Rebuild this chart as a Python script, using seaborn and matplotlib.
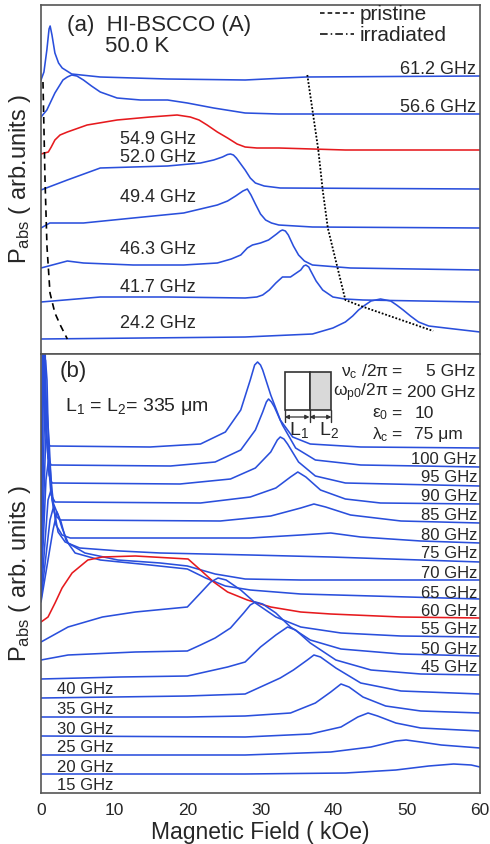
import matplotlib
matplotlib.use("Agg")
import matplotlib.pyplot as plt
import seaborn as sns
import pandas as pd
from matplotlib.lines import Line2D
from matplotlib.patches import Rectangle

# ---------------- panel (a): measured absorption, (field kOe, signal arb.) ----------------
a_612 = [(0, 274), (0.4, 282), (0.8, 304), (1.1, 325), (1.25, 328), (1.5, 319), (1.9, 301), (2.4, 291),
         (2.9, 286), (4.2, 280), (8.1, 277), (17.3, 275), (27.9, 274), (36.2, 277), (60, 278)]
a_566 = [(0, 237), (0.8, 244), (1.9, 261), (3.0, 274), (3.6, 277), (4.2, 279), (4.9, 278), (5.8, 274),
         (6.9, 268), (8.1, 262), (10.4, 256), (13.6, 254), (17.3, 254), (20, 251), (23.6, 246), (27.9, 241),
         (32.5, 240), (60, 240)]
a_549 = [(0, 200), (1.0, 202), (1.4, 207), (1.9, 214), (2.6, 219), (3.6, 222), (6.3, 229), (10.4, 234),
         (14.9, 237), (18.6, 239), (20.4, 237), (21.6, 234), (22.7, 229), (24.1, 222), (25.5, 216),
         (26.8, 210), (27.9, 207), (29.5, 206), (32.5, 206), (41.6, 204), (60, 204)]
a_520 = [(0, 164), (3.6, 174), (8.1, 186), (12.6, 187), (17.3, 188), (21.8, 191), (23.6, 194), (24.8, 197),
         (25.5, 199.5), (25.9, 200), (26.3, 199), (26.7, 196), (27.3, 190), (27.9, 184), (28.6, 176),
         (29.3, 171), (30.5, 168), (32.7, 166), (60, 165)]
a_494 = [(0, 126), (1.2, 131), (5.8, 131), (12.6, 136), (19.5, 141), (24.1, 149), (25.5, 153), (26.6, 158),
         (27.6, 163), (28.2, 165), (28.7, 159), (29.3, 150), (30.0, 140), (30.7, 134), (31.5, 131), (32.5, 129),
         (37.1, 127), (60, 126)]
a_463 = [(0, 86), (3.6, 93), (5.8, 91), (12.6, 89), (19.5, 89), (24.1, 91), (26.0, 95), (27.3, 99),
         (28.2, 106), (28.9, 109), (30.0, 111), (31.1, 114), (32.2, 120), (32.7, 123), (33.0, 124),
         (33.4, 123), (33.8, 119), (34.5, 108), (35.2, 99), (36.0, 93), (37.1, 89), (42.3, 86), (60, 84)]
a_417 = [(0, 52), (8.1, 57), (17.3, 57), (27.9, 56), (29.5, 57), (30.3, 59), (31.2, 64), (32.1, 71),
         (33.0, 77), (34.1, 77), (35.5, 84), (35.9, 88), (36.2, 89), (36.6, 87), (36.8, 84), (37.6, 73),
         (38.5, 64), (39.9, 57), (41.5, 55), (44.0, 54), (60, 52)]
a_242 = [(0, 15), (27.9, 17), (37.1, 20), (39.9, 26), (41.6, 32), (42.6, 38), (43.4, 44), (44.3, 49),
         (45.1, 53), (46.4, 55), (47.8, 53), (48.6, 49), (49.5, 44), (50.5, 38), (51.6, 32), (53.0, 28),
         (55.3, 26), (60, 22)]
a_freqs = ["61.2 GHz", "56.6 GHz", "54.9 GHz", "52.0 GHz", "49.4 GHz", "46.3 GHz", "41.7 GHz", "24.2 GHz"]
a_pristine = [(0.27, 272), (0.55, 174), (0.82, 107), (1.23, 61), (1.9, 41), (2.7, 28), (3.6, 15)]
a_irradiated = [(36.4, 279), (37.1, 244), (37.9, 204), (38.5, 164), (39.2, 126), (40.5, 87), (41.6, 54),
                (43.7, 48), (53.6, 23)]

# ---------------- panel (b): simulated absorption ----------------
b_100 = [(0, 273), (0.14, 373), (0.2, 463), (0.34, 463), (0.55, 373), (0.82, 351), (1.23, 347), (14.9, 346),
         (21.8, 349), (25.2, 361), (27.3, 383), (28.6, 413), (29.2, 428), (29.6, 431), (30.0, 428), (30.3, 423),
         (31.4, 398), (32.7, 373), (34.4, 356), (36.8, 349), (43.7, 346), (60, 345)]
b_95 = [(0, 253), (0.2, 393), (0.3, 453), (0.44, 453), (0.68, 363), (0.96, 335), (1.37, 328), (17.7, 327),
        (23.8, 331), (27.3, 343), (29.3, 363), (30.3, 381), (30.8, 391), (31.1, 394), (31.5, 391), (31.9, 386),
        (33.0, 368), (34.8, 345), (37.5, 333), (43.7, 328), (60, 326)]
b_90 = [(0, 233), (0.27, 373), (0.41, 448), (0.55, 448), (0.82, 353), (1.1, 318), (1.5, 310), (19.0, 309),
        (25.9, 314), (29.3, 325), (31.4, 341), (32.3, 353), (32.7, 356), (33.2, 354), (33.7, 349), (35.2, 331),
        (37.5, 317), (41.6, 310), (60, 307)]
b_85 = [(0, 218), (0.41, 353), (0.62, 433), (0.82, 413), (1.1, 323), (1.37, 298), (1.92, 291), (21.8, 290),
        (28.6, 296), (32.1, 305), (34.1, 316), (35.1, 321), (36.2, 316), (38.2, 303), (41.6, 294), (46.4, 290),
        (60, 289)]
b_80 = [(0, 208), (0.55, 333), (0.82, 383), (1.1, 353), (1.5, 293), (1.92, 278), (2.6, 273), (24.5, 272),
        (31.4, 277), (35.5, 285), (37.3, 289), (38.9, 286), (42.3, 278), (49.2, 272), (60, 270)]
b_75 = [(0, 201), (0.68, 313), (1.1, 338), (1.5, 303), (2.05, 268), (2.88, 258), (4.0, 255), (28.6, 255),
        (35.5, 258), (39.6, 260), (43.7, 256), (51.9, 252), (60, 250)]
b_70 = [(0, 195), (0.96, 293), (1.37, 303), (1.78, 283), (2.33, 261), (3.3, 251), (5.3, 245), (10.8, 242),
        (16.3, 240), (28.6, 238), (39.6, 236), (60, 231)]
b_65 = [(0, 193), (1.23, 273), (1.78, 288), (2.33, 278), (2.88, 265), (3.7, 250), (6.0, 240), (10.5, 233),
        (16.3, 230), (20.0, 227), (23.8, 219), (27.9, 214), (35.5, 213), (60, 213)]
b_60 = [(0, 191), (1.64, 263), (2.19, 281), (2.74, 271), (3.4, 253), (4.66, 240), (8.1, 233), (14.9, 228),
        (20.0, 224), (22.5, 215), (25.2, 207), (28.6, 203), (35.5, 199), (60, 194)]
b_55 = [(0, 171), (0.96, 176), (1.92, 190), (2.88, 205), (4.25, 220), (6.4, 233), (8.4, 236), (12.9, 237),
        (20.1, 234), (21.8, 223), (23.6, 211), (25.5, 201), (28.2, 193), (31.4, 186), (35.5, 181), (39.6, 179),
        (49.2, 176), (60, 175)]
b_50 = [(0, 151), (3.7, 166), (8.4, 176), (12.9, 181), (20.0, 186), (21.8, 200), (23.2, 211), (24.2, 215),
        (25.3, 213), (27.3, 203), (29.3, 190), (32.1, 176), (35.5, 166), (41.0, 160), (49.2, 157), (60, 156)]
b_45 = [(0, 133), (3.7, 138), (12.9, 141), (20.0, 142), (21.8, 148), (23.8, 155), (25.9, 165), (27.7, 180),
        (28.6, 188), (29.3, 191), (30.3, 189), (32.1, 180), (34.1, 166), (36.8, 153), (41.0, 144), (49.2, 139),
        (60, 137)]
b_40 = [(0, 114), (10.8, 116), (20.0, 117), (25.5, 126), (27.9, 131), (30.0, 146), (32.1, 158), (33.7, 166),
        (34.8, 163), (36.8, 150), (40.3, 133), (45.1, 123), (51.9, 119), (60, 118)]
b_35 = [(0, 95), (20.0, 97), (27.9, 99), (30.0, 106), (32.7, 115), (34.5, 123), (36.4, 133), (37.3, 138),
        (38.2, 136), (40.3, 125), (43.7, 110), (49.2, 102), (60, 99)]
b_30 = [(0, 76), (20.0, 76), (27.9, 77), (34.1, 80), (37.5, 90), (39.6, 101), (41.0, 109), (42.1, 106),
        (44.0, 96), (47.1, 87), (51.9, 82), (60, 80)]
b_25 = [(0, 57), (27.9, 56), (36.8, 59), (41.0, 66), (43.3, 76), (44.7, 80), (46.0, 77), (48.5, 70),
        (51.9, 65), (60, 62)]
b_20 = [(0, 38), (27.9, 38), (39.6, 41), (45.1, 46), (48.5, 52), (49.9, 53), (51.9, 51), (54.7, 48), (60, 45)]
b_15 = [(0, 19), (27.9, 19), (41.6, 20), (48.5, 23), (53.0, 27), (56.4, 29), (58.8, 28), (60, 26)]
b_freqs = ["100 GHz", "95 GHz", "90 GHz", "85 GHz", "80 GHz", "75 GHz", "70 GHz", "65 GHz", "60 GHz",
           "55 GHz", "50 GHz", "45 GHz", "40 GHz", "35 GHz", "30 GHz", "25 GHz", "20 GHz", "15 GHz"]
b_params = [("ν$_{\\rm c}$ /2π", "5 GHz"), ("ω$_{\\rm p0}$/2π", "200 GHz"), ("ε$_{\\rm 0}$", "10"),
            ("λ$_{\\rm c}$", "75 μm")]

sns.set_style("white")
plt.rcParams["font.family"] = ["Liberation Sans", "DejaVu Sans"]
plt.rcParams["mathtext.fontset"] = "custom"
plt.rcParams["mathtext.rm"] = "Liberation Sans"
plt.rcParams["mathtext.it"] = "Liberation Sans:italic"

BLUE = "#2a4fdc"
RED = "#e61a1e"
LW = 1.15


def to_frame(names, curves):
    rows = [(n, x, y) for n, pts in zip(names, curves) for x, y in pts]
    return pd.DataFrame(rows, columns=["freq", "field", "signal"])


fig = plt.figure(figsize=(4.9, 8.44), dpi=100)
ax_a = fig.add_axes([41 / 490, 1 - 354 / 844, 439 / 490, 349 / 844])
ax_b = fig.add_axes([41 / 490, 1 - 793 / 844, 439 / 490, 439 / 844])

# ---- (a)
df_a = to_frame(a_freqs, [a_612, a_566, a_549, a_520, a_494, a_463, a_417, a_242])
pal_a = {f: (RED if f == "54.9 GHz" else BLUE) for f in a_freqs}
sns.lineplot(data=df_a, x="field", y="signal", hue="freq", palette=pal_a, sort=False,
             estimator=None, legend=False, lw=LW, ax=ax_a)
df_p = pd.DataFrame(a_pristine, columns=["field", "signal"])
df_i = pd.DataFrame(a_irradiated, columns=["field", "signal"])
sns.lineplot(data=df_p, x="field", y="signal", sort=False, estimator=None, color="k",
             lw=1.2, linestyle=(0, (4, 3)), ax=ax_a)
sns.lineplot(data=df_i, x="field", y="signal", sort=False, estimator=None, color="k",
             lw=1.3, linestyle=(0, (1, 1)), ax=ax_a)

ax_a.text(3.6, 329, "(a)  HI-BSCCO (A)", fontsize=16, va="center")
ax_a.text(8.8, 308, "50.0 K", fontsize=16, va="center")
a_label_pos = [(59.5, 285, "right"), (59.5, 247, "right"), (10.8, 215, "left"), (10.8, 197, "left"),
               (10.8, 157, "left"), (10.8, 104, "left"), (10.8, 67, "left"), (10.8, 30, "left")]
for name, (x, y, ha) in zip(a_freqs, a_label_pos):
    ax_a.text(x, y, name, fontsize=13, ha=ha, va="center")

handles = [Line2D([], [], color="k", lw=1.1, linestyle=(0, (3, 2))),
           Line2D([], [], color="k", lw=1.1, linestyle=(0, (5, 2, 1, 2)))]
ax_a.legend(handles, ["pristine", "irradiated"], loc="upper right", bbox_to_anchor=(0.925, 1.0),
            frameon=False, fontsize=15, handlelength=1.6, handletextpad=0.3, labelspacing=0.1,
            borderpad=0, borderaxespad=0)

ax_a.set_xlim(0, 60)
ax_a.set_ylim(0, 349)
ax_a.set_ylabel("P$_{\\rm abs}$ ( arb.units )", fontsize=17, labelpad=6)

# ---- (b)
b_curves = [b_100, b_95, b_90, b_85, b_80, b_75, b_70, b_65, b_60, b_55, b_50, b_45, b_40, b_35,
            b_30, b_25, b_20, b_15]
df_b = to_frame(b_freqs, b_curves)
pal_b = {f: (RED if f == "55 GHz" else BLUE) for f in b_freqs}
sns.lineplot(data=df_b, x="field", y="signal", hue="freq", palette=pal_b, sort=False,
             estimator=None, legend=False, lw=LW, ax=ax_b)

ax_b.text(2.6, 421, "(b)", fontsize=16, va="center")
ax_b.text(3.3, 386, "L$_1$ = L$_2$= 335 μm", fontsize=14, va="center")

right_y = [333, 315, 296, 277, 258, 240, 220, 200, 181, 163, 144, 126]
left_y = [103, 83, 64, 45, 26, 8]
for name, y in zip(b_freqs[:12], right_y):
    ax_b.text(59.6, y, name, fontsize=12, ha="right", va="center")
for name, y in zip(b_freqs[12:], left_y):
    ax_b.text(2.2, y, name, fontsize=12, ha="left", va="center")

# inset sketch of the two-layer sample
ax_b.add_patch(Rectangle((33.3, 383), 3.4, 38, facecolor="white", edgecolor="#333", lw=1.2))
ax_b.add_patch(Rectangle((36.7, 383), 3.0, 38, facecolor="#d9d9d9", edgecolor="#333", lw=1.2))
for xv in (33.3, 36.7, 39.7):
    ax_b.plot([xv, xv], [383, 371], color="#333", lw=1.0)
for x0, x1 in ((33.3, 36.7), (36.7, 39.7)):
    ax_b.annotate("", xy=(x0, 376), xytext=(x1, 376),
                  arrowprops=dict(arrowstyle="<|-|>", color="#333", lw=0.9, mutation_scale=6,
                                  shrinkA=0, shrinkB=0))
ax_b.text(35.3, 363, "L$_1$", fontsize=14, ha="center", va="center")
ax_b.text(39.3, 363, "L$_2$", fontsize=14, ha="center", va="center")

param_y = [421, 400, 379, 358]
for (lab, val), y in zip(b_params, param_y):
    ax_b.text(47.5, y, lab, fontsize=12.5, ha="right", va="center")
    ax_b.text(48.5, y, "=", fontsize=12.5, ha="center", va="center")
    if val in ("5 GHz", "200 GHz"):
        ax_b.text(59.4, y, val, fontsize=12.5, ha="right", va="center")
    else:
        ax_b.text(51.0, y, val, fontsize=12.5, ha="left", va="center")

ax_b.set_xlim(0, 60)
ax_b.set_ylim(0, 439)
ax_b.set_ylabel("P$_{\\rm abs}$ ( arb. units )", fontsize=17, labelpad=6)
ax_b.set_xlabel("Magnetic Field ( kOe)", fontsize=16.5, labelpad=2)

for ax in (ax_a, ax_b):
    ax.set_xticks(range(0, 61, 10))
    ax.set_yticks([])
    for sp in ax.spines.values():
        sp.set_color("#555")
        sp.set_linewidth(1.2)
ax_a.tick_params(axis="x", direction="in", length=4, width=1, color="#555", labelbottom=False)
ax_b.tick_params(axis="x", direction="in", length=0, labelsize=12.5, pad=7)
ax_a.set_xlabel("")

fig.savefig("out.png", dpi=100)
